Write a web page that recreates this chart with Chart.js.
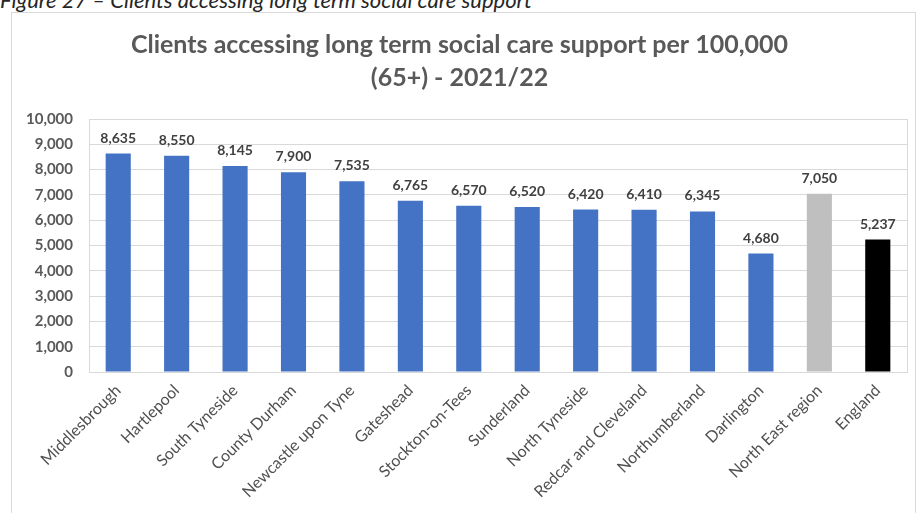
<!DOCTYPE html>
<html>
<head>
<meta charset="utf-8">
<script src="https://cdn.jsdelivr.net/npm/chart.js@4"></script>
<style>
  body { margin: 0; background: #fff; width: 917px; height: 513px; overflow: hidden; position: relative; }
  #caption { position: absolute; left: 0; top: -14px; font-family: Lato, "Noto Sans", sans-serif; font-style: italic; font-size: 22px; color: #262626; white-space: nowrap; }
  #box { position: absolute; left: 11px; top: 12px; width: 905px; height: 510px; border: 1px solid #d9d9d9; box-sizing: border-box; }
  #wrap { position: absolute; left: 0; top: 0; width: 903px; height: 508px; }
</style>
</head>
<body>
<div id="caption">Figure 27 – Clients accessing long term social care support</div>
<div id="box"><div id="wrap"><canvas id="careChart"></canvas></div></div>
<script>
// Clients per 100,000 (65+), 2021/22
var areas = ['Middlesbrough', 'Hartlepool', 'South Tyneside', 'County Durham', 'Newcastle upon Tyne',
             'Gateshead', 'Stockton-on-Tees', 'Sunderland', 'North Tyneside', 'Redcar and Cleveland',
             'Northumberland', 'Darlington', 'North East region', 'England'];
var clientRates = [8635, 8550, 8145, 7900, 7535, 6765, 6570, 6520, 6420, 6410, 6345, 4680, 7050, 5237];
var barColours = ['#4472c4', '#4472c4', '#4472c4', '#4472c4', '#4472c4', '#4472c4', '#4472c4',
                  '#4472c4', '#4472c4', '#4472c4', '#4472c4', '#4472c4', '#bfbfbf', '#000000'];
var yTicks = [0, 1000, 2000, 3000, 4000, 5000, 6000, 7000, 8000, 9000, 10000];

var fontFamily = 'Lato, "Noto Sans", sans-serif';

// value labels above each bar
var valueLabels = {
    id: 'valueLabels',
    afterDatasetsDraw: function(chart) {
        var ctx = chart.ctx;
        var meta = chart.getDatasetMeta(0);
        ctx.save();
        ctx.font = 'bold 14px ' + fontFamily;
        ctx.fillStyle = '#404040';
        ctx.textAlign = 'center';
        ctx.textBaseline = 'alphabetic';
        meta.data.forEach(function(bar, i) {
            ctx.fillText(clientRates[i].toLocaleString('en-GB'), bar.x, bar.y - 11);
        });
        ctx.restore();
    }
};

// border round the plot area
var plotBorder = {
    id: 'plotBorder',
    beforeDatasetsDraw: function(chart) {
        var a = chart.chartArea;
        var ctx = chart.ctx;
        ctx.save();
        ctx.strokeStyle = '#d9d9d9';
        ctx.lineWidth = 1;
        ctx.strokeRect(Math.round(a.left) + 0.5, Math.round(a.top) + 0.5, Math.round(a.right - a.left), Math.round(a.bottom - a.top));
        ctx.restore();
    }
};

var ctx = document.getElementById('careChart').getContext('2d');
var myChart = new Chart(ctx, {
    type: 'bar',
    data: {
        labels: areas,
        datasets: [{
            data: clientRates,
            backgroundColor: barColours,
            barPercentage: 0.43,
            categoryPercentage: 1
        }]
    },
    options: {
        responsive: true,
        maintainAspectRatio: false,
        animation: false,
        layout: { padding: { left: 0, right: 8, top: 0, bottom: 0 } },
        plugins: {
            legend: { display: false },
            tooltip: { enabled: false },
            title: {
                display: true,
                text: ['Clients accessing long term social care support per 100,000', '(65+) - 2021/22'],
                color: '#595959',
                font: { family: fontFamily, size: 25, weight: 'bold', lineHeight: 1.3 },
                padding: { top: 16, bottom: 25 }
            }
        },
        scales: {
            x: {
                grid: { display: false },
                border: { color: '#d9d9d9' },
                afterFit: function(axis) { axis.height = 149; },
                ticks: {
                    color: '#505050',
                    font: { family: fontFamily, size: 16 },
                    maxRotation: 45,
                    minRotation: 45,
                    autoSkip: false,
                    padding: 1
                }
            },
            y: {
                min: 0,
                max: 10000,
                afterBuildTicks: function(axis) {
                    axis.ticks = yTicks.map(function(v) { return { value: v }; });
                },
                afterFit: function(axis) { axis.width = 77; },
                grid: { color: '#d9d9d9', drawTicks: false },
                border: { display: false },
                ticks: {
                    color: '#595959',
                    font: { family: fontFamily, size: 15, weight: 'bold' },
                    padding: 16,
                    callback: function(v) { return v.toLocaleString('en-GB'); }
                }
            }
        }
    },
    plugins: [valueLabels, plotBorder]
});
</script>
</body>
</html>
